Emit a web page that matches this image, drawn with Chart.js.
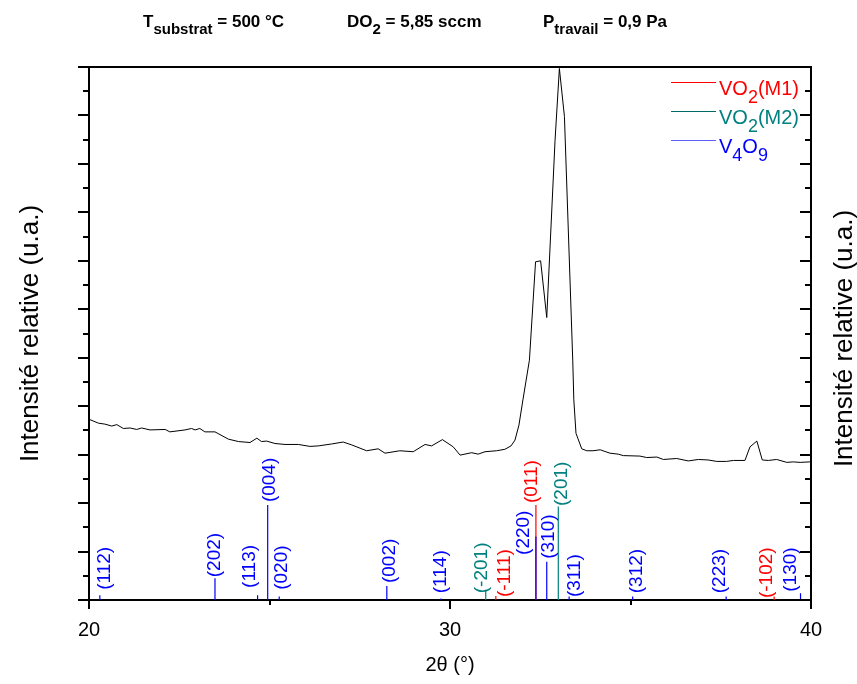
<!DOCTYPE html>
<html>
<head>
<meta charset="utf-8">
<script src="https://cdn.jsdelivr.net/npm/chart.js@4.4.1/dist/chart.umd.min.js"></script>
<style>
  html, body { margin: 0; padding: 0; background: #fff; }
</style>
</head>
<body>
<canvas id="xrd" width="857" height="684"></canvas>
<script>
// measured pattern (2theta in degrees, relative intensity in a.u.)
const twoTheta = [20.00, 20.26, 20.44, 20.63, 20.77, 20.95, 21.14, 21.32, 21.46, 21.69, 22.11, 22.24, 22.66, 22.84, 22.94,
  23.07, 23.21, 23.49, 23.86, 24.14, 24.46, 24.65, 24.78, 24.92, 25.15, 25.43, 25.80, 26.12, 26.35, 26.72, 27.04, 27.28,
  27.69, 28.01, 28.20, 28.61, 28.98, 29.31, 29.49, 29.79, 30.09, 30.28, 30.60, 30.78, 30.97, 31.29, 31.52, 31.69, 31.80,
  31.91, 32.02, 32.20, 32.37, 32.51, 32.68, 32.91, 33.03, 33.17, 33.40, 33.43, 33.49, 33.65, 33.79, 33.96, 34.16, 34.43,
  34.66, 34.80, 35.26, 35.45, 35.73, 35.91, 36.28, 36.60, 36.88, 37.15, 37.39, 37.66, 37.85, 38.17, 38.31, 38.50, 38.65,
  38.82, 39.05, 39.33, 39.51, 39.70, 39.97];
const intensity = [3.73, 3.65, 3.63, 3.59, 3.62, 3.54, 3.55, 3.52, 3.55, 3.51, 3.52, 3.47, 3.51, 3.54, 3.51,
  3.54, 3.47, 3.47, 3.32, 3.27, 3.25, 3.34, 3.27, 3.28, 3.23, 3.21, 3.21, 3.17, 3.18, 3.22, 3.26, 3.20,
  3.08, 3.12, 3.03, 3.08, 3.06, 3.21, 3.18, 3.31, 3.16, 2.99, 3.04, 3.01, 3.06, 3.08, 3.11, 3.18, 3.30,
  3.61, 4.13, 4.95, 6.98, 7.00, 5.83, 9.49, 10.97, 9.98, 4.95, 4.13, 3.44, 3.12, 3.08, 3.08, 3.10, 3.03,
  3.01, 2.98, 2.97, 2.94, 2.95, 2.90, 2.92, 2.87, 2.90, 2.89, 2.86, 2.86, 2.88, 2.88, 3.16, 3.28, 2.89,
  2.88, 2.90, 2.84, 2.85, 2.84, 2.85];

// reference lines: V4O9
const v4o9Hkl = ['(112)', '(202)', '(113)', '(004)', '(020)', '(002)', '(114)', '(220)', '(310)', '(311)', '(312)', '(223)', '(130)'];
const v4o9Pos = [20.30, 23.49, 24.67, 24.95, 25.27, 28.25, 29.75, 32.38, 32.68, 33.30, 35.06, 37.65, 39.71];
const v4o9Height = [0.10, 0.45, 0.10, 1.96, 0.07, 0.29, 0.03, 1.31, 0.79, 0.07, 0.07, 0.07, 0.14];
// VO2 (M1)
const m1Hkl = ['(-111)', '(011)', '(-102)'];
const m1Pos = [31.27, 32.38, 38.98];
const m1Height = [0.08, 1.96, 0.07];
// VO2 (M2)
const m2Hkl = ['(-201)', '(201)'];
const m2Pos = [30.99, 33.00];
const m2Height = [0.21, 1.93];

// where each hkl label starts (2theta, intensity), text runs upward
const v4o9LabelX = [20.44, 23.49, 24.46, 25.00, 25.35, 28.34, 29.75, 32.05, 32.74, 33.45, 35.18, 37.48, 39.45];
const v4o9LabelY = [0.21, 0.47, 0.25, 2.02, 0.21, 0.35, 0.14, 0.93, 0.85, 0.06, 0.14, 0.14, 0.17];
const m1LabelX = [31.52, 32.26, 38.78];
const m1LabelY = [0.06, 2.00, 0.04];
const m2LabelX = [30.89, 33.10];
const m2LabelY = [0.14, 1.94];

const xTicks = [20, 30, 40];

const FONT = '"Liberation Sans", Arial, sans-serif';
const BLUE = '#0000ff', RED = '#ff0000', TEAL = '#008080';

// header uses a narrow bold face when one is installed
const probe = document.createElement('canvas').getContext('2d');
probe.font = 'bold 20px monospace';
const monoW = probe.measureText('substrat sccm').width;
probe.font = 'bold 20px "Liberation Sans Narrow", monospace';
const hasNarrow = probe.measureText('substrat sccm').width !== monoW;
const HEAD_FONT = hasNarrow ? '"Liberation Sans Narrow", "Liberation Sans", sans-serif' : FONT;
const HEAD_SIZE = hasNarrow ? 20 : 17;
const HEAD_SUB = hasNarrow ? 18 : 15;

function sticks(pos, h) {
  const pts = [];
  pos.forEach((p, i) => {
    pts.push({x: p, y: 0}, {x: p, y: h[i]}, {x: p, y: null});
  });
  return pts;
}

// draws text made of [string, isSubscript] runs, returns end x
function drawRuns(ctx, runs, x, y, size, subSize, subDrop, weight, family) {
  runs.forEach(r => {
    ctx.font = weight + ' ' + (r[1] ? subSize : size) + 'px ' + family;
    ctx.fillText(r[0], x, r[1] ? y + subDrop : y);
    x += ctx.measureText(r[0]).width;
  });
  return x;
}

const decorations = {
  id: 'decorations',
  afterDraw(chart) {
    const {ctx, chartArea: a, scales: {x, y}} = chart;
    ctx.save();
    ctx.strokeStyle = '#000';
    ctx.lineWidth = 2;
    // top frame line
    ctx.beginPath();
    ctx.moveTo(a.left - 1, a.top);
    ctx.lineTo(a.right + 1, a.top);
    ctx.stroke();
    // y ticks: outward on the left, inward on the right
    ctx.beginPath();
    for (let v = 0; v <= 11; v += 0.5) {
      const py = Math.round(y.getPixelForValue(v));
      const len = v % 1 === 0 ? 11 : 6;
      ctx.moveTo(a.left, py); ctx.lineTo(a.left - len, py);
      ctx.moveTo(a.right, py); ctx.lineTo(a.right - len, py);
    }
    // x ticks, outward
    for (let v = 20; v <= 40; v += 5) {
      const px = Math.round(x.getPixelForValue(v));
      const len = xTicks.includes(v) ? 9 : 5;
      ctx.moveTo(px, a.bottom); ctx.lineTo(px, a.bottom + len);
    }
    ctx.stroke();

    // hkl labels
    ctx.font = '19px ' + FONT;
    ctx.textAlign = 'left';
    ctx.textBaseline = 'middle';
    const label = (names, lx, ly, color) => {
      ctx.fillStyle = color;
      names.forEach((t, i) => {
        ctx.save();
        ctx.translate(x.getPixelForValue(lx[i]), y.getPixelForValue(ly[i]));
        ctx.rotate(-Math.PI / 2);
        ctx.fillText(t, 0, 0);
        ctx.restore();
      });
    };
    label(v4o9Hkl, v4o9LabelX, v4o9LabelY, BLUE);
    label(m1Hkl, m1LabelX, m1LabelY, RED);
    label(m2Hkl, m2LabelX, m2LabelY, TEAL);

    // legend
    const legend = [
      {runs: [['VO', 0], ['2', 1], ['(M1)', 0]], color: RED, line: RED},
      {runs: [['VO', 0], ['2', 1], ['(M2)', 0]], color: TEAL, line: '#006b66'},
      {runs: [['V', 0], ['4', 1], ['O', 0], ['9', 1]], color: BLUE, line: '#6060ff'}
    ];
    ctx.textBaseline = 'alphabetic';
    legend.forEach((it, i) => {
      const ly = a.top + 15 + i * 29;
      ctx.strokeStyle = it.line;
      ctx.lineWidth = 1;
      ctx.beginPath();
      ctx.moveTo(a.right - 140, ly + 0.5);
      ctx.lineTo(a.right - 95, ly + 0.5);
      ctx.stroke();
      ctx.fillStyle = it.color;
      drawRuns(ctx, it.runs, a.right - 92, ly + 13, 20, 18, 8, 'normal', FONT);
    });

    // header
    ctx.fillStyle = '#000';
    drawRuns(ctx, [['T', 0], ['substrat', 1], [' = 500 °C', 0]], 143, 27, HEAD_SIZE, HEAD_SUB, 7, 'bold', HEAD_FONT);
    drawRuns(ctx, [['DO', 0], ['2', 1], [' = 5,85 sccm', 0]], 347, 27, HEAD_SIZE, HEAD_SUB, 7, 'bold', HEAD_FONT);
    drawRuns(ctx, [['P', 0], ['travail', 1], [' = 0,9 Pa', 0]], 543, 27, HEAD_SIZE, HEAD_SUB, 7, 'bold', HEAD_FONT);

    // right axis title, same reading direction as the left one
    ctx.font = '26px ' + FONT;
    ctx.textAlign = 'center';
    ctx.textBaseline = 'middle';
    ctx.translate(845, (a.top + a.bottom) / 2 + 5);
    ctx.rotate(-Math.PI / 2);
    ctx.fillText('Intensité relative (u.a.)', 0, 0);
    ctx.restore();
  }
};

const yScale = (pos, width, withTitle) => ({
  type: 'linear',
  position: pos,
  min: 0,
  max: 11,
  ticks: {display: false},
  grid: {display: false, drawTicks: false},
  border: {display: true, color: '#000', width: 2},
  title: {
    display: withTitle,
    text: 'Intensité relative (u.a.)',
    color: '#000',
    font: {family: FONT, size: 26},
    padding: {top: 15, bottom: 0}
  },
  afterFit: s => { s.width = width; }
});

new Chart(document.getElementById('xrd'), {
  type: 'line',
  data: {
    datasets: [
      {
        label: 'pattern',
        data: twoTheta.map((t, i) => ({x: t, y: intensity[i]})),
        borderColor: '#000',
        borderWidth: 1,
        pointRadius: 0,
        tension: 0,
        order: 0
      },
      {
        label: 'V4O9',
        data: sticks(v4o9Pos, v4o9Height),
        borderColor: BLUE,
        borderWidth: 1.2,
        pointRadius: 0,
        order: 1
      },
      {
        label: 'VO2(M1)',
        data: sticks(m1Pos, m1Height),
        borderColor: RED,
        borderWidth: 1.2,
        pointRadius: 0,
        order: 2
      },
      {
        label: 'VO2(M2)',
        data: sticks(m2Pos, m2Height),
        borderColor: TEAL,
        borderWidth: 1.2,
        pointRadius: 0,
        order: 2
      }
    ]
  },
  options: {
    responsive: false,
    animation: false,
    layout: {padding: {top: 67, left: 0, right: 0, bottom: 0}},
    plugins: {legend: {display: false}, tooltip: {enabled: false}},
    scales: {
      x: {
        type: 'linear',
        position: 'bottom',
        min: 20,
        max: 40,
        afterBuildTicks: s => { s.ticks = xTicks.map(v => ({value: v})); },
        ticks: {color: '#000', font: {family: FONT, size: 20}, padding: 18, maxRotation: 0},
        grid: {display: false, drawTicks: false},
        border: {display: true, color: '#000', width: 2},
        title: {
          display: true,
          text: '2θ (°)',
          color: '#000',
          font: {family: FONT, size: 20},
          padding: {top: 0, bottom: 7}
        },
        afterFit: s => { s.height = 84; }
      },
      y: yScale('left', 89, true),
      y2: yScale('right', 46, false)
    }
  },
  plugins: [decorations]
});
</script>
</body>
</html>
